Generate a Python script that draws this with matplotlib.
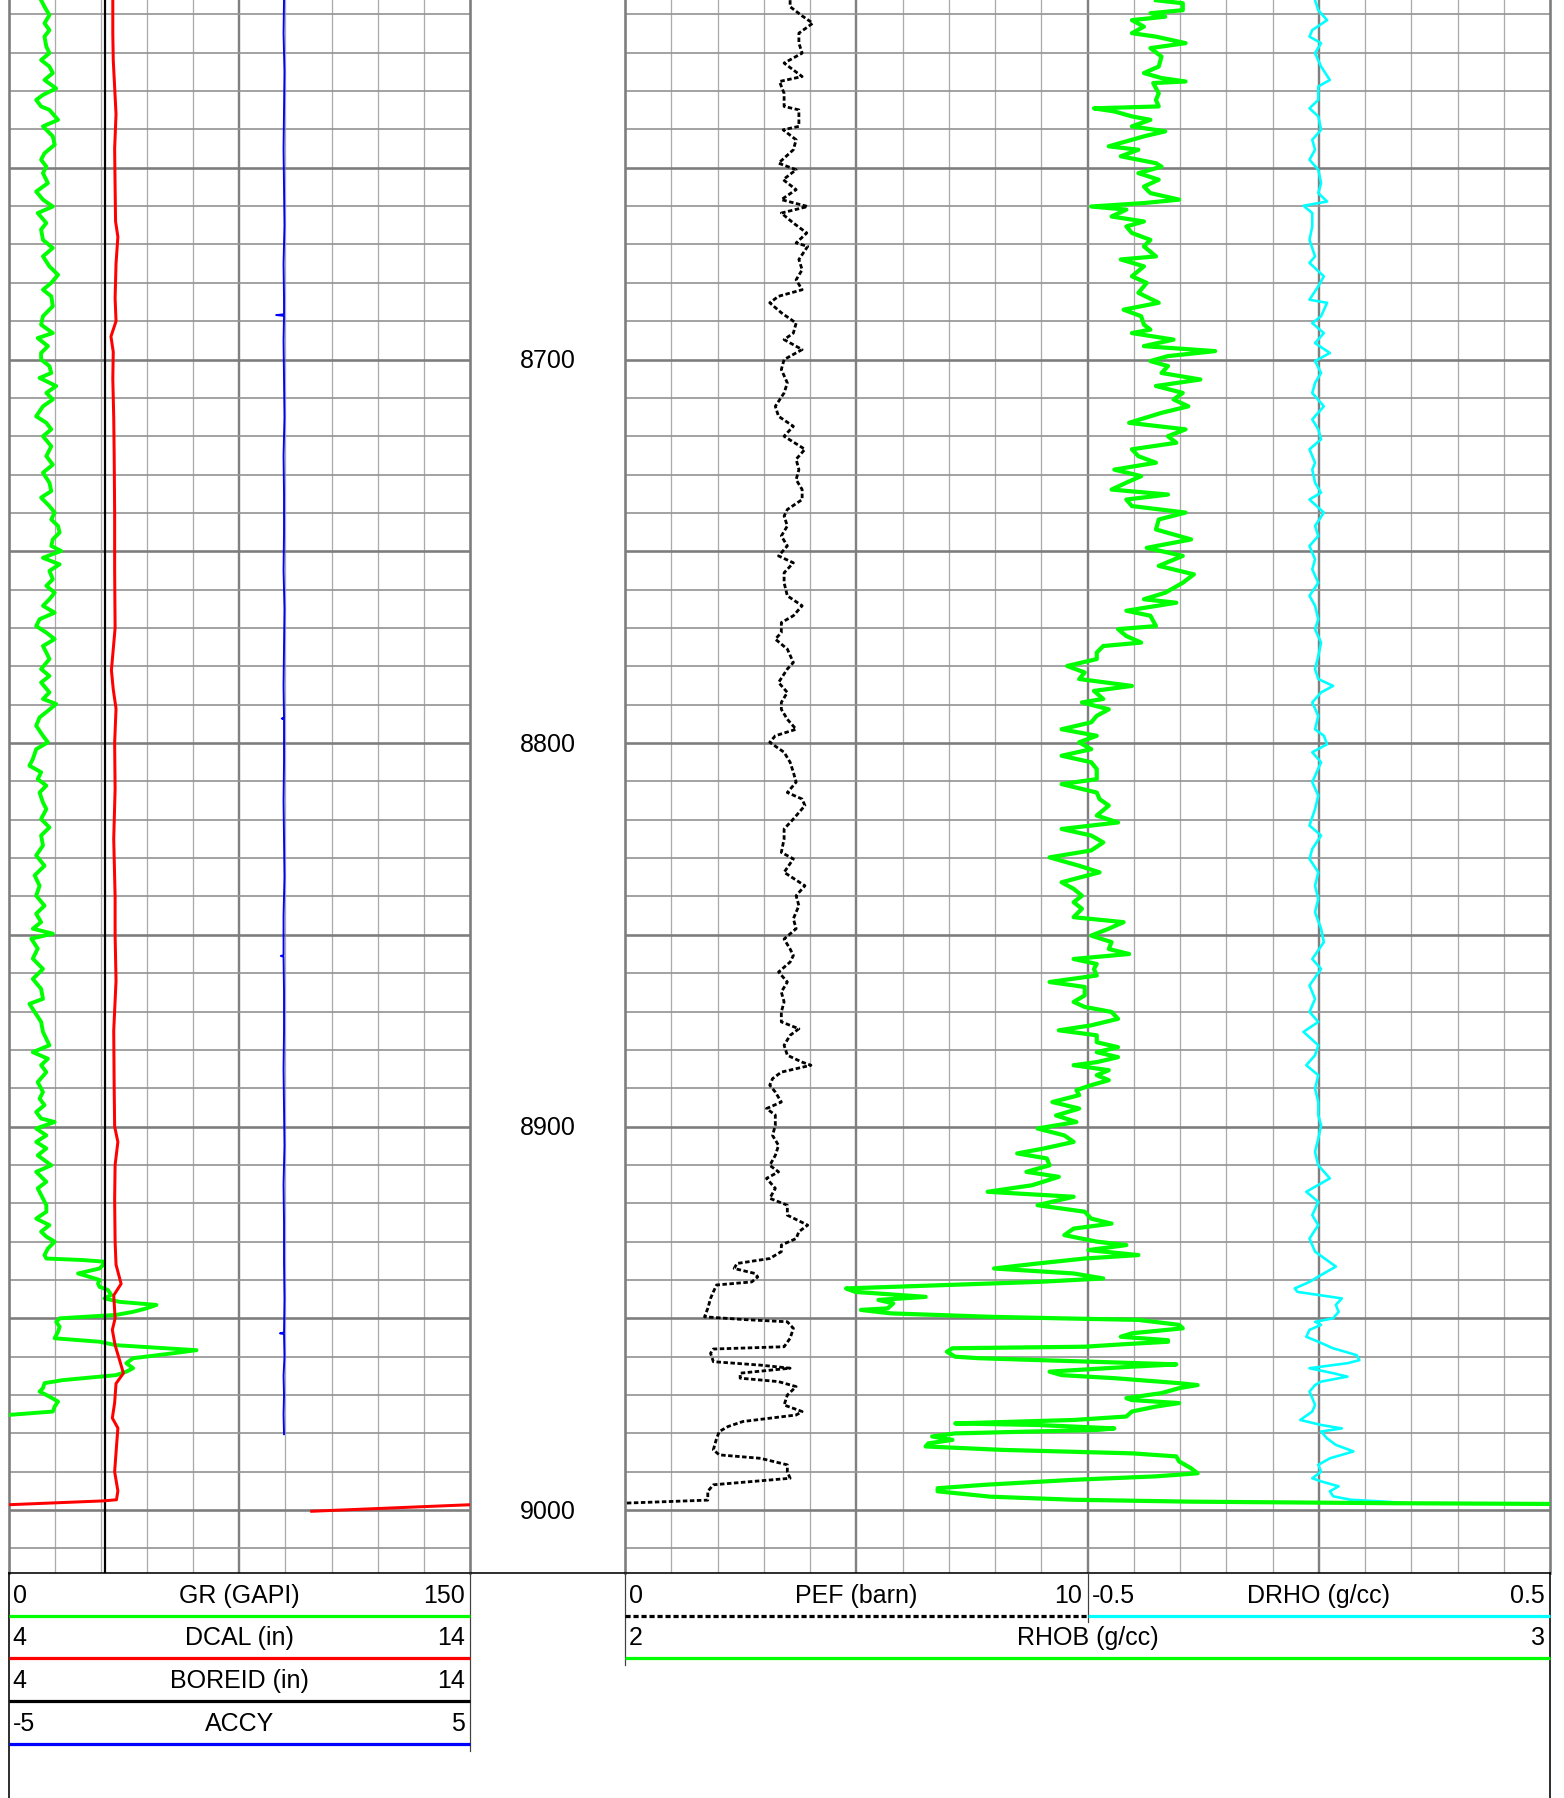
import numpy as np
import matplotlib.pyplot as plt

plt.rcParams['font.family'] = ['Liberation Sans', 'DejaVu Sans']
plt.rcParams['font.size'] = 18

W, H = 1564, 1798
TOP, BOTTOM = 8606.25, 9016.4
PX = 0.72  # points per pixel at dpi 100

# ---- log data (depth ft, value) ----
GR = [
    (8606.3, 10.6), (8608.0, 11.7), (8610.2, 13.3), (8612.3, 11.7), (8614.1, 13.3), (8615.8, 11.7),
    (8618.4, 12.3), (8620.1, 13.3), (8621.9, 10.6), (8623.6, 13.3), (8625.3, 14.4), (8627.1, 11.7),
    (8629.3, 15.5), (8631.0, 11.2), (8632.3, 9.0), (8634.0, 10.6), (8634.9, 13.3), (8637.5, 16.1),
    (8639.2, 11.2), (8641.8, 14.4), (8644.0, 15.0), (8646.2, 11.7), (8647.9, 10.6), (8649.7, 12.3),
    (8651.4, 11.2), (8654.0, 12.8), (8656.2, 9.0), (8658.3, 11.2), (8660.1, 14.4), (8661.8, 9.5),
    (8664.4, 12.3), (8666.1, 10.6), (8668.8, 11.2), (8670.9, 14.4), (8673.1, 11.2), (8675.7, 13.3),
    (8677.9, 16.1), (8680.0, 13.9), (8681.8, 11.2), (8683.5, 13.9), (8686.1, 14.4), (8688.7, 11.2),
    (8690.9, 10.6), (8693.1, 14.4), (8694.4, 9.5), (8696.5, 12.8), (8698.3, 10.6), (8700.0, 10.6),
    (8701.7, 13.3), (8703.5, 13.9), (8704.8, 10.1), (8706.9, 15.5), (8708.7, 12.3), (8710.4, 14.4),
    (8712.2, 11.2), (8714.8, 9.0), (8716.5, 12.3), (8718.2, 13.9), (8720.0, 11.2), (8722.6, 13.9),
    (8725.2, 12.3), (8727.4, 14.4), (8729.5, 11.2), (8732.1, 13.3), (8734.3, 13.9), (8736.0, 10.6),
    (8738.2, 13.3), (8739.9, 15.0), (8741.7, 13.9), (8743.4, 16.1), (8745.1, 16.6), (8746.9, 14.4),
    (8748.6, 13.9), (8749.9, 17.1), (8751.7, 11.2), (8753.4, 16.6), (8755.1, 13.3), (8757.3, 14.4),
    (8759.0, 12.3), (8760.8, 15.0), (8762.5, 13.3), (8764.2, 11.2), (8766.0, 15.0), (8767.7, 10.1),
    (8769.5, 9.0), (8771.2, 12.3), (8772.9, 15.0), (8774.7, 11.2), (8776.4, 12.3), (8778.1, 13.3),
    (8780.7, 10.6), (8782.5, 13.3), (8784.2, 10.6), (8786.8, 13.3), (8788.5, 11.2), (8789.8, 15.5),
    (8791.6, 12.8), (8793.3, 10.1), (8795.5, 9.0), (8798.1, 11.2), (8799.8, 12.8), (8801.6, 9.0),
    (8804.2, 7.9), (8805.9, 6.8), (8807.6, 10.6), (8809.4, 9.5), (8811.1, 12.3), (8812.9, 10.1),
    (8815.5, 11.2), (8817.2, 12.3), (8819.8, 10.6), (8822.0, 13.3), (8824.1, 10.6), (8826.7, 11.2),
    (8829.3, 9.0), (8832.0, 11.7), (8834.5, 8.5), (8837.2, 10.1), (8839.8, 9.0), (8842.4, 11.7),
    (8844.5, 9.0), (8846.7, 10.6), (8848.4, 7.9), (8849.7, 14.4), (8851.0, 7.4), (8853.6, 9.5),
    (8856.2, 7.9), (8858.9, 11.2), (8861.5, 7.9), (8864.1, 10.6), (8866.7, 11.2), (8868.0, 6.8),
    (8870.1, 8.5), (8872.7, 10.6), (8875.3, 11.2), (8877.1, 12.3), (8878.8, 13.3), (8880.6, 7.9),
    (8882.3, 12.8), (8884.0, 10.6), (8885.8, 12.3), (8888.4, 9.5), (8891.0, 11.2), (8892.7, 10.1),
    (8894.4, 11.7), (8896.2, 9.0), (8897.9, 10.6), (8898.8, 15.0), (8900.5, 9.0), (8902.3, 12.3),
    (8904.0, 9.0), (8905.7, 12.3), (8907.5, 9.5), (8910.1, 13.9), (8911.8, 9.0), (8914.4, 12.3),
    (8916.1, 9.5), (8918.8, 11.2), (8920.5, 12.3), (8922.2, 12.3), (8924.0, 9.0), (8925.7, 13.3),
    (8927.4, 10.6), (8928.7, 12.3), (8930.0, 15.0), (8931.8, 12.8), (8933.5, 11.7), (8934.4, 12.3),
    (8934.8, 24.2), (8935.2, 30.7), (8936.1, 30.7), (8937.0, 29.6), (8938.3, 22.6), (8939.2, 26.4),
    (8940.0, 29.6), (8940.9, 29.1), (8941.8, 29.6), (8942.6, 32.3), (8943.9, 33.4), (8944.8, 31.2),
    (8945.7, 36.1), (8946.5, 48.1), (8947.4, 44.8), (8948.3, 40.5), (8949.1, 35.0), (8950.0, 16.6),
    (8950.9, 15.5), (8952.2, 16.6), (8953.5, 16.1), (8955.2, 15.0), (8956.1, 29.6), (8957.0, 35.0),
    (8958.3, 61.1), (8959.1, 53.5), (8960.4, 40.5), (8961.7, 38.3), (8963.0, 40.5), (8963.9, 38.3),
    (8964.8, 35.0), (8966.1, 17.7), (8966.9, 11.7), (8968.2, 11.2), (8969.1, 10.1), (8970.4, 13.3),
    (8971.7, 16.1), (8973.0, 15.0), (8974.3, 14.4), (8975.2, -0.2), (8976.0, -1.0),
]

DCAL = [
    (8606.3, 6.26), (8615, 6.26), (8622, 6.27), (8629, 6.30), (8636, 6.33), (8645, 6.30),
    (8655, 6.31), (8664, 6.32), (8668, 6.37), (8675, 6.33), (8684, 6.31), (8690, 6.33),
    (8694, 6.22), (8698, 6.27), (8705, 6.26), (8715, 6.28), (8725, 6.29), (8740, 6.30),
    (8755, 6.30), (8770, 6.31), (8781, 6.23), (8786, 6.27), (8791, 6.33), (8800, 6.30),
    (8812, 6.31), (8825, 6.28), (8840, 6.31), (8850, 6.31), (8862, 6.33), (8875, 6.28),
    (8890, 6.29), (8900, 6.30), (8904, 6.37), (8910, 6.31), (8919, 6.30), (8930, 6.31),
    (8936, 6.33), (8941, 6.44), (8944, 6.28), (8950, 6.31), (8953, 6.25), (8957, 6.31),
    (8959, 6.36), (8964.3, 6.49), (8967, 6.33), (8972, 6.30), (8976, 6.25), (8978.6, 6.37),
    (8985, 6.33), (8990, 6.30), (8995, 6.37), (8997.3, 6.34), (8997.6, 6.05), (8998.6, 4.0),
    (9000.3, 0.57),
]

BOREID = [(8606.25, 6.1), (9016.4, 6.1)]

ACCY = [
    (8606.3, 0.97), (8615, 0.96), (8625, 0.98), (8635, 0.97), (8645, 0.96), (8655, 0.97),
    (8665, 0.98), (8675, 0.96), (8684, 0.97), (8688.2, 0.97), (8688.4, 0.80), (8688.6, 0.97),
    (8695, 0.96), (8705, 0.97), (8715, 0.98), (8725, 0.96), (8735, 0.97), (8745, 0.97),
    (8755, 0.96), (8765, 0.98), (8775, 0.97), (8785, 0.96), (8793.4, 0.97), (8793.6, 0.92),
    (8793.8, 0.97), (8805, 0.97), (8815, 0.96), (8825, 0.97), (8835, 0.98), (8845, 0.96),
    (8855.3, 0.96), (8855.5, 0.90), (8855.7, 0.96), (8865, 0.97), (8875, 0.97), (8885, 0.96),
    (8895, 0.97), (8905, 0.98), (8915, 0.96), (8925, 0.97), (8935, 0.97), (8945, 0.98),
    (8953.7, 0.97), (8953.9, 0.88), (8954.1, 0.97), (8960, 0.98), (8965, 0.96), (8970, 0.97),
    (8975, 0.96), (8980.2, 0.97),
]

PEF = [
    (8606.3, 3.57), (8608.0, 3.57), (8610.4, 3.83), (8612.3, 4.06), (8614.9, 3.76), (8617.5, 3.76),
    (8620.1, 3.83), (8622.7, 3.44), (8626.2, 3.83), (8627.5, 3.34), (8630.6, 3.44), (8634.0, 3.44),
    (8634.9, 3.76), (8639.2, 3.76), (8640.1, 3.42), (8642.7, 3.70), (8645.3, 3.64), (8648.8, 3.32),
    (8650.5, 3.70), (8653.1, 3.42), (8655.7, 3.70), (8658.3, 3.38), (8660.1, 3.95), (8661.8, 3.38),
    (8664.4, 3.64), (8667.0, 3.93), (8669.6, 3.70), (8670.5, 3.95), (8673.9, 3.76), (8676.6, 3.83),
    (8679.2, 3.70), (8681.8, 3.83), (8683.5, 3.32), (8685.2, 3.13), (8687.8, 3.38), (8690.5, 3.70),
    (8693.1, 3.64), (8694.8, 3.44), (8697.4, 3.83), (8700.0, 3.44), (8702.6, 3.38), (8706.1, 3.51),
    (8708.7, 3.44), (8712.2, 3.25), (8714.8, 3.32), (8717.4, 3.64), (8720.0, 3.44), (8723.4, 3.89),
    (8726.0, 3.70), (8728.7, 3.76), (8731.3, 3.70), (8733.9, 3.83), (8736.5, 3.83), (8739.1, 3.51),
    (8740.8, 3.44), (8743.4, 3.51), (8746.0, 3.38), (8748.6, 3.51), (8751.2, 3.32), (8753.0, 3.64),
    (8755.6, 3.44), (8758.2, 3.44), (8761.6, 3.51), (8764.2, 3.83), (8766.8, 3.64), (8768.6, 3.38),
    (8771.2, 3.38), (8772.9, 3.25), (8775.5, 3.51), (8779.0, 3.64), (8780.7, 3.51), (8784.2, 3.32),
    (8786.8, 3.51), (8789.4, 3.38), (8791.2, 3.38), (8793.8, 3.51), (8796.4, 3.70), (8798.1, 3.25),
    (8799.8, 3.13), (8802.4, 3.44), (8805.0, 3.57), (8807.6, 3.64), (8810.2, 3.70), (8812.9, 3.51),
    (8814.6, 3.83), (8816.3, 3.89), (8819.8, 3.64), (8822.4, 3.44), (8825.0, 3.44), (8828.5, 3.38),
    (8830.2, 3.64), (8833.7, 3.44), (8837.2, 3.89), (8839.8, 3.70), (8842.4, 3.76), (8845.8, 3.64),
    (8848.4, 3.70), (8851.1, 3.44), (8853.7, 3.57), (8855.4, 3.64), (8857.1, 3.57), (8859.7, 3.32),
    (8862.3, 3.51), (8864.9, 3.38), (8867.5, 3.44), (8870.1, 3.38), (8872.7, 3.38), (8874.5, 3.76),
    (8876.2, 3.57), (8878.8, 3.44), (8881.4, 3.51), (8883.2, 3.83), (8884.0, 4.02), (8885.8, 3.38),
    (8887.5, 3.19), (8889.2, 3.13), (8891.0, 3.25), (8893.6, 3.38), (8895.3, 3.06), (8897.0, 3.25),
    (8899.7, 3.25), (8902.3, 3.19), (8904.9, 3.32), (8907.5, 3.25), (8910.1, 3.13), (8911.8, 3.32),
    (8913.5, 3.06), (8916.1, 3.25), (8918.7, 3.13), (8920.5, 3.51), (8923.1, 3.51), (8925.7, 3.95),
    (8927.4, 3.76), (8929.2, 3.70), (8930.9, 3.38), (8932.6, 3.38), (8934.4, 3.13), (8935.7, 2.42),
    (8937.0, 2.36), (8938.3, 2.81), (8939.2, 2.87), (8940.5, 2.74), (8941.3, 1.98), (8943.1, 1.91),
    (8944.8, 1.85), (8947.4, 1.79), (8949.6, 1.72), (8950.3, 2.55), (8950.9, 3.51), (8952.6, 3.64),
    (8955.2, 3.57), (8957.4, 3.44), (8958.0, 1.91), (8959.1, 1.85), (8961.3, 1.91), (8962.2, 2.93),
    (8963.0, 3.57), (8964.3, 2.49), (8965.6, 2.49), (8966.5, 3.32), (8967.8, 3.70), (8970.0, 3.51),
    (8972.6, 3.44), (8974.3, 3.83), (8975.2, 3.70), (8976.9, 2.55), (8978.2, 2.23), (8979.5, 2.04),
    (8981.3, 1.98), (8984.3, 1.91), (8985.6, 2.04), (8986.5, 2.93), (8988.2, 3.51), (8990.0, 3.51),
    (8991.7, 3.57), (8993.4, 1.91), (8995.1, 1.79), (8997.4, 1.79), (8998.4, -0.5),
]

RHOB = [
    (8606.3, 2.574), (8607.1, 2.603), (8608.9, 2.603), (8609.7, 2.568), (8610.6, 2.584), (8611.5, 2.548),
    (8613.2, 2.561), (8614.9, 2.548), (8615.8, 2.574), (8617.5, 2.606), (8618.8, 2.568), (8621.0, 2.580),
    (8623.6, 2.577), (8625.3, 2.561), (8626.6, 2.580), (8627.5, 2.606), (8627.9, 2.571), (8630.6, 2.577),
    (8632.3, 2.574), (8634.0, 2.577), (8634.5, 2.507), (8635.3, 2.529), (8636.6, 2.548), (8637.5, 2.568),
    (8639.2, 2.548), (8640.5, 2.584), (8641.8, 2.561), (8642.7, 2.548), (8644.4, 2.523), (8645.3, 2.555),
    (8647.0, 2.536), (8648.8, 2.574), (8649.7, 2.580), (8651.4, 2.555), (8653.1, 2.577), (8654.9, 2.561),
    (8656.6, 2.568), (8658.3, 2.599), (8659.2, 2.561), (8660.1, 2.504), (8660.9, 2.542), (8662.7, 2.526),
    (8664.0, 2.561), (8665.3, 2.542), (8667.0, 2.548), (8668.8, 2.568), (8670.5, 2.561), (8673.1, 2.574),
    (8673.9, 2.536), (8675.7, 2.561), (8678.3, 2.548), (8680.0, 2.564), (8682.6, 2.555), (8685.2, 2.577),
    (8687.0, 2.539), (8688.7, 2.558), (8690.9, 2.561), (8692.2, 2.568), (8693.1, 2.548), (8694.8, 2.593),
    (8696.5, 2.561), (8697.8, 2.638), (8699.1, 2.587), (8700.4, 2.568), (8701.7, 2.587), (8703.5, 2.580),
    (8705.2, 2.622), (8706.9, 2.574), (8708.7, 2.603), (8710.4, 2.593), (8712.2, 2.609), (8713.9, 2.580),
    (8716.5, 2.545), (8718.2, 2.606), (8720.0, 2.587), (8721.7, 2.596), (8723.4, 2.548), (8725.2, 2.555),
    (8726.9, 2.574), (8728.7, 2.529), (8730.4, 2.558), (8732.1, 2.542), (8733.9, 2.526), (8735.2, 2.587),
    (8736.5, 2.542), (8738.2, 2.548), (8739.9, 2.606), (8741.7, 2.577), (8744.3, 2.574), (8746.9, 2.612),
    (8749.1, 2.564), (8751.2, 2.603), (8753.8, 2.577), (8756.0, 2.615), (8758.2, 2.603), (8760.8, 2.584),
    (8762.5, 2.561), (8763.4, 2.596), (8765.5, 2.542), (8766.8, 2.568), (8769.5, 2.574), (8770.3, 2.533),
    (8772.1, 2.542), (8773.8, 2.558), (8774.7, 2.517), (8776.4, 2.510), (8778.1, 2.510), (8779.9, 2.478),
    (8781.6, 2.497), (8783.3, 2.491), (8785.1, 2.548), (8786.4, 2.507), (8788.5, 2.517), (8789.4, 2.494),
    (8791.2, 2.523), (8792.9, 2.510), (8794.6, 2.504), (8796.4, 2.472), (8798.1, 2.510), (8799.8, 2.491),
    (8801.6, 2.504), (8803.3, 2.472), (8805.0, 2.504), (8806.8, 2.510), (8809.4, 2.510), (8810.7, 2.472),
    (8812.9, 2.510), (8814.6, 2.513), (8816.3, 2.523), (8818.9, 2.510), (8820.7, 2.533), (8822.4, 2.472),
    (8824.1, 2.504), (8825.9, 2.517), (8828.0, 2.504), (8829.8, 2.459), (8832.0, 2.491), (8833.7, 2.513),
    (8836.3, 2.472), (8838.0, 2.485), (8839.8, 2.494), (8841.5, 2.485), (8843.2, 2.494), (8845.4, 2.485),
    (8846.7, 2.539), (8848.4, 2.523), (8850.2, 2.504), (8851.9, 2.526), (8853.7, 2.523), (8855.0, 2.545),
    (8856.3, 2.485), (8857.6, 2.510), (8858.9, 2.507), (8860.6, 2.510), (8862.3, 2.459), (8863.6, 2.497),
    (8865.8, 2.497), (8867.5, 2.485), (8868.8, 2.497), (8870.1, 2.526), (8871.9, 2.533), (8873.6, 2.504),
    (8874.9, 2.469), (8876.2, 2.510), (8878.0, 2.510), (8879.3, 2.533), (8880.6, 2.510), (8881.9, 2.533),
    (8883.2, 2.510), (8884.0, 2.485), (8885.3, 2.523), (8886.6, 2.510), (8887.9, 2.523), (8889.2, 2.504),
    (8890.5, 2.488), (8891.8, 2.491), (8893.6, 2.462), (8895.3, 2.491), (8897.1, 2.466), (8898.8, 2.488),
    (8900.5, 2.446), (8902.3, 2.475), (8904.0, 2.485), (8905.7, 2.453), (8907.0, 2.424), (8908.3, 2.456),
    (8910.1, 2.459), (8911.8, 2.434), (8913.1, 2.469), (8915.3, 2.440), (8917.0, 2.392), (8918.3, 2.485),
    (8920.5, 2.446), (8922.2, 2.497), (8924.0, 2.504), (8925.3, 2.526), (8926.6, 2.485), (8928.3, 2.475),
    (8930.0, 2.510), (8930.9, 2.542), (8932.2, 2.501), (8933.5, 2.555), (8934.4, 2.497), (8935.7, 2.446),
    (8937.0, 2.399), (8938.3, 2.485), (8939.6, 2.517), (8940.5, 2.446), (8942.2, 2.239), (8943.1, 2.249),
    (8944.4, 2.325), (8945.2, 2.274), (8946.1, 2.290), (8947.4, 2.284), (8947.8, 2.255), (8948.7, 2.287),
    (8949.6, 2.395), (8950.0, 2.472), (8950.4, 2.555), (8951.7, 2.599), (8952.6, 2.603), (8953.9, 2.548),
    (8954.8, 2.536), (8955.7, 2.587), (8956.1, 2.587), (8956.8, 2.536), (8957.4, 2.497), (8957.8, 2.354),
    (8958.7, 2.348), (8960.0, 2.357), (8960.4, 2.383), (8961.3, 2.504), (8962.0, 2.596), (8962.6, 2.548),
    (8963.9, 2.459), (8964.8, 2.472), (8965.6, 2.529), (8966.9, 2.599), (8967.4, 2.619), (8968.2, 2.599),
    (8969.5, 2.580), (8970.8, 2.542), (8971.3, 2.548), (8972.1, 2.599), (8973.0, 2.574), (8974.3, 2.548),
    (8975.6, 2.542), (8976.5, 2.485), (8977.4, 2.357), (8977.8, 2.446), (8978.7, 2.529), (8979.1, 2.510),
    (8980.0, 2.357), (8980.8, 2.332), (8981.7, 2.354), (8982.6, 2.328), (8983.4, 2.325), (8984.3, 2.408),
    (8985.2, 2.548), (8986.0, 2.596), (8987.3, 2.599), (8989.1, 2.612), (8990.4, 2.619), (8991.2, 2.574),
    (8992.1, 2.485), (8993.4, 2.389), (8994.3, 2.338), (8995.1, 2.338), (8996.5, 2.395), (8997.3, 2.485),
    (8997.8, 2.612), (8998.2, 2.829), (8998.4, 3.0), (8998.6, 3.3),
]

DRHO = [
    (8606.3, -0.008), (8608.9, -0.001), (8611.5, 0.018), (8614.1, -0.014), (8615.8, -0.020), (8617.5, 0.005),
    (8620.1, -0.008), (8623.6, 0.005), (8627.1, 0.024), (8628.8, -0.001), (8632.3, -0.001), (8634.5, -0.020),
    (8636.6, -0.001), (8640.1, 0.005), (8642.7, -0.014), (8645.3, -0.008), (8647.9, -0.020), (8650.5, -0.001),
    (8654.0, 0.005), (8656.6, -0.001), (8658.8, 0.018), (8659.9, -0.033), (8661.8, -0.014), (8665.3, -0.014),
    (8668.8, -0.020), (8673.1, -0.008), (8674.8, -0.020), (8678.3, 0.011), (8680.9, -0.001), (8684.4, -0.020),
    (8685.2, 0.018), (8688.7, 0.005), (8690.5, -0.014), (8693.1, 0.011), (8695.7, -0.008), (8698.3, 0.024),
    (8700.4, -0.008), (8703.5, 0.005), (8706.1, -0.008), (8708.7, -0.014), (8712.2, 0.011), (8715.6, -0.014),
    (8718.2, -0.001), (8720.8, 0.005), (8723.4, -0.020), (8726.9, -0.008), (8728.7, -0.014), (8732.1, -0.008),
    (8734.7, 0.005), (8736.5, -0.020), (8739.9, 0.011), (8743.4, -0.008), (8746.0, -0.001), (8748.6, -0.020),
    (8752.1, -0.008), (8754.7, -0.014), (8758.2, -0.001), (8761.6, -0.020), (8764.2, -0.008), (8767.7, -0.001),
    (8770.3, -0.008), (8773.8, 0.005), (8777.3, -0.001), (8780.7, -0.008), (8783.3, -0.001), (8785.1, 0.031),
    (8786.8, 0.005), (8789.4, -0.014), (8792.9, -0.001), (8796.4, -0.008), (8798.1, 0.011), (8800.3, 0.018),
    (8802.4, -0.014), (8805.0, 0.005), (8810.2, -0.014), (8813.7, -0.001), (8817.2, -0.008), (8821.5, -0.020),
    (8824.1, 0.005), (8827.6, -0.014), (8830.2, -0.020), (8833.7, -0.001), (8837.2, -0.008), (8840.6, -0.001),
    (8844.1, -0.008), (8848.4, 0.005), (8851.9, 0.011), (8856.3, -0.014), (8858.9, 0.005), (8863.2, -0.020),
    (8866.7, -0.008), (8870.1, -0.020), (8872.7, -0.001), (8875.3, -0.033), (8878.8, -0.001), (8881.4, -0.008),
    (8884.0, -0.027), (8886.6, -0.001), (8890.1, -0.008), (8893.6, -0.001), (8897.0, -0.001), (8899.7, 0.005),
    (8903.1, -0.001), (8906.6, -0.008), (8910.1, -0.001), (8913.5, 0.024), (8917.0, -0.027), (8919.6, -0.001),
    (8923.1, -0.014), (8925.7, -0.001), (8929.2, -0.020), (8932.6, -0.008), (8936.5, 0.037), (8938.7, 0.005),
    (8940.5, -0.020), (8942.2, -0.052), (8943.1, -0.046), (8943.9, -0.001), (8944.8, 0.050), (8946.5, 0.037),
    (8948.3, 0.043), (8950.0, 0.031), (8950.9, -0.008), (8951.7, 0.005), (8953.0, -0.020), (8954.8, -0.027),
    (8956.1, -0.001), (8957.8, 0.031), (8959.6, 0.082), (8960.9, 0.088), (8961.7, 0.062), (8963.0, -0.020),
    (8964.3, 0.031), (8965.2, 0.062), (8966.5, 0.005), (8967.4, -0.008), (8969.1, -0.020), (8970.8, -0.014),
    (8972.6, -0.008), (8974.3, -0.014), (8976.5, -0.040), (8977.8, 0.005), (8978.7, 0.050), (8979.5, 0.005),
    (8981.3, 0.018), (8983.0, 0.037), (8984.7, 0.075), (8986.5, 0.024), (8988.2, -0.001), (8990.0, 0.005),
    (8991.7, -0.014), (8992.5, 0.005), (8993.8, 0.043), (8995.1, 0.024), (8996.4, 0.031), (8997.3, 0.069),
    (8997.8, 0.145), (8998.3, 0.20),
]

depth_labels = [8700, 8800, 8900, 9000]

# header rows: (left label, curve name, right label, colour, dashed)
track1_header = [
    ('0', 'GR (GAPI)', '150', '#00ff00', False),
    ('4', 'DCAL (in)', '14', '#ff0000', False),
    ('4', 'BOREID (in)', '14', '#000000', False),
    ('-5', 'ACCY', '5', '#0000ff', False),
]
track3_header_top = [
    ('0', 'PEF (barn)', '10', '#000000', True),
    ('-0.5', 'DRHO (g/cc)', '0.5', '#00ffff', False),
]
track3_header_bottom = ('2', 'RHOB (g/cc)', '3', '#00ff00', False)


def curve(data):
    arr = np.array(data, dtype=float)
    return arr[:, 0], arr[:, 1]


def rect(x0, x1, y0, y1):
    return [x0 / W, 1 - y1 / H, (x1 - x0) / W, (y1 - y0) / H]


T1 = (8.5, 470)
T3 = (625, 1550)
PLOT_BOT = 1573

fig = plt.figure(figsize=(W / 100, H / 100), dpi=100)


def make_track(x0, x1, ndiv, majors):
    ax = fig.add_axes(rect(x0, x1, 0, PLOT_BOT))
    ax.set_xlim(0, ndiv)
    ax.set_ylim(BOTTOM, TOP)
    ax.set_xticks([])
    ax.set_yticks([])
    for k in range(1, ndiv):
        if k in majors:
            ax.axvline(k, color='#808080', lw=2.4 * PX, zorder=1)
        else:
            ax.axvline(k, color='#ababab', lw=1.3 * PX, zorder=1)
    for d in range(8610, 9011, 10):
        if d % 50 == 0:
            ax.axhline(d, color='#7d7d7d', lw=2.6 * PX, zorder=1)
        else:
            ax.axhline(d, color='#959595', lw=1.7 * PX, zorder=1)
    for side in ['left', 'right']:
        ax.spines[side].set_color('#7d7d7d')
        ax.spines[side].set_linewidth(2.6 * PX)
    ax.spines['top'].set_visible(False)
    ax.spines['bottom'].set_visible(False)
    return ax


def overlay(base, lo, hi):
    ax = fig.add_axes(base.get_position().bounds, sharey=base)
    ax.set_xlim(lo, hi)
    ax.axis('off')
    return ax


t1 = make_track(*T1, 10, [5])
t3 = make_track(*T3, 20, [5, 10, 15])

# track 1 curves
ax_gr = overlay(t1, 0, 150)
d, v = curve(GR)
ax_gr.plot(v, d, color='#00ff00', lw=3.9 * PX, solid_joinstyle='round')

ax_cal = overlay(t1, 4, 14)
d, v = curve(BOREID)
ax_cal.plot(v, d, color='#000000', lw=2.2 * PX)
d, v = curve(DCAL)
ax_cal.plot(v, d, color='#ff0000', lw=3.0 * PX)
wrapped = np.where(v <= 4, v + 10, np.nan)
ax_cal.plot(wrapped, d, color='#ff0000', lw=3.0 * PX)

ax_acc = overlay(t1, -5, 5)
d, v = curve(ACCY)
ax_acc.plot(v, d, color='#0000ff', lw=1.9 * PX)

# track 3 curves
ax_pef = overlay(t3, 0, 20)
d, v = curve(PEF)
ax_pef.plot(v, d, color='#000000', lw=2.8 * PX, linestyle=(0, (1.6, 0.9)))

ax_drho = overlay(t3, -1.5, 0.5)
d, v = curve(DRHO)
ax_drho.plot(v, d, color='#00ffff', lw=2.6 * PX)

ax_rhob = overlay(t3, 2, 3)
d, v = curve(RHOB)
ax_rhob.plot(v, d, color='#00ff00', lw=4.2 * PX, solid_joinstyle='round')

# depth track
axd = fig.add_axes(rect(T1[1], T3[0], 0, PLOT_BOT), sharey=t1)
axd.axis('off')
axd.set_xlim(0, 1)
for dl in depth_labels:
    axd.text(0.5, dl + 2.3, str(dl), ha='center', va='baseline', fontsize=18)

# header panel in pixel coordinates
hdr = fig.add_axes([0, 0, 1, 1])
hdr.set_xlim(0, W)
hdr.set_ylim(H, 0)
hdr.axis('off')

hdr.plot([T1[0], T3[1]], [PLOT_BOT, PLOT_BOT], color='black', lw=1.6 * PX)
hdr.plot([T1[0], T1[0]], [PLOT_BOT, H], color='black', lw=1.6 * PX)
hdr.plot([T3[1], T3[1]], [PLOT_BOT, H], color='black', lw=1.6 * PX)
hdr.plot([T1[1], T1[1]], [PLOT_BOT, 1751], color='#404040', lw=1.2 * PX)
hdr.plot([T3[0], T3[0]], [PLOT_BOT, 1665], color='#404040', lw=1.2 * PX)
mid3 = (T3[0] + T3[1]) / 2
hdr.plot([mid3, mid3], [PLOT_BOT, 1622], color='#404040', lw=1.2 * PX)


def header_row(x0, x1, y_line, entry):
    left, name, right, color, dashed = entry
    ls = (0, (1.6, 0.9)) if dashed else '-'
    hdr.plot([x0, x1], [y_line, y_line], color=color, lw=3.2 * PX, linestyle=ls,
             solid_capstyle='butt')
    yb = y_line - 13
    hdr.text(x0 + 4, yb, left, ha='left', va='baseline', fontsize=18)
    hdr.text((x0 + x1) / 2, yb, name, ha='center', va='baseline', fontsize=18)
    hdr.text(x1 - 5, yb, right, ha='right', va='baseline', fontsize=18)


row_lines = [1616, 1658, 1701, 1744]
for y_line, entry in zip(row_lines, track1_header):
    header_row(T1[0], T1[1], y_line, entry)

header_row(T3[0], mid3, row_lines[0], track3_header_top[0])
header_row(mid3, T3[1], row_lines[0], track3_header_top[1])
header_row(T3[0], T3[1], row_lines[1], track3_header_bottom)

fig.savefig('out.png', dpi=100)
